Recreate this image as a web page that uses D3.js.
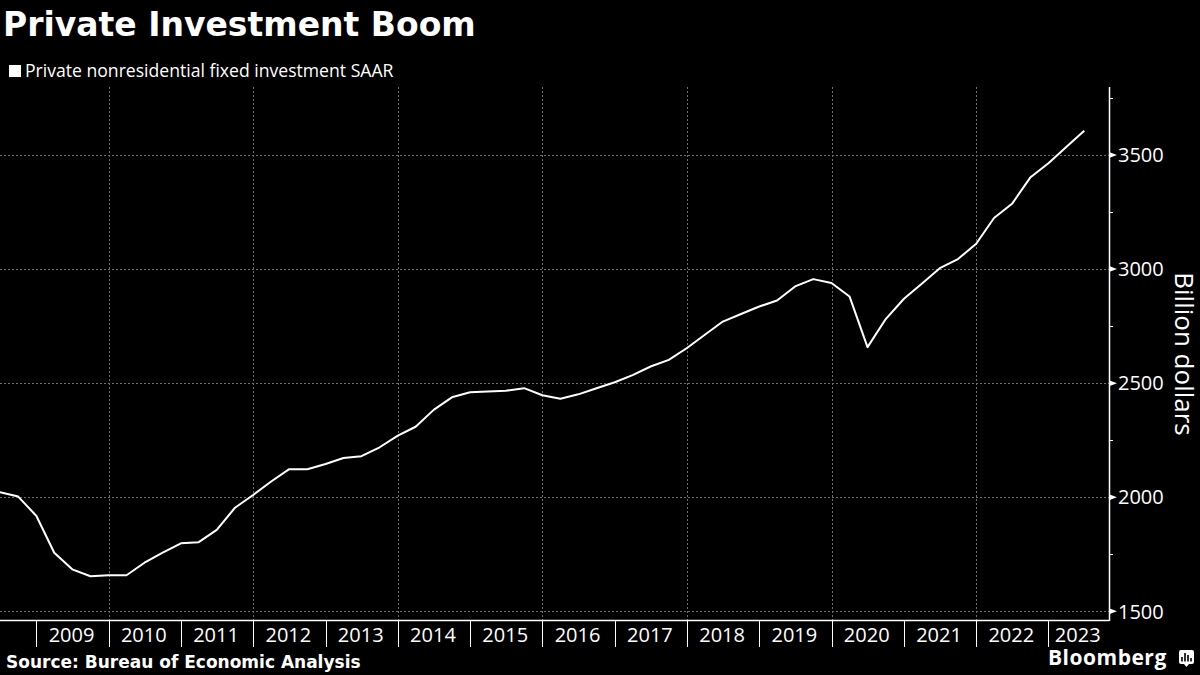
<!DOCTYPE html>
<html>
<head>
<meta charset="utf-8">
<script src="https://cdn.jsdelivr.net/npm/d3@7"></script>
<style>
  html, body { margin: 0; padding: 0; background: #000; }
  svg { display: block; }
</style>
</head>
<body>
<div id="chart"></div>
<script>
// quarterly values, billion dollars (SAAR)
const quarters = [
  "2008Q2", "2008Q3", "2008Q4",
  "2009Q1", "2009Q2", "2009Q3", "2009Q4",
  "2010Q1", "2010Q2", "2010Q3", "2010Q4",
  "2011Q1", "2011Q2", "2011Q3", "2011Q4",
  "2012Q1", "2012Q2", "2012Q3", "2012Q4",
  "2013Q1", "2013Q2", "2013Q3", "2013Q4",
  "2014Q1", "2014Q2", "2014Q3", "2014Q4",
  "2015Q1", "2015Q2", "2015Q3", "2015Q4",
  "2016Q1", "2016Q2", "2016Q3", "2016Q4",
  "2017Q1", "2017Q2", "2017Q3", "2017Q4",
  "2018Q1", "2018Q2", "2018Q3", "2018Q4",
  "2019Q1", "2019Q2", "2019Q3", "2019Q4",
  "2020Q1", "2020Q2", "2020Q3", "2020Q4",
  "2021Q1", "2021Q2", "2021Q3", "2021Q4",
  "2022Q1", "2022Q2", "2022Q3", "2022Q4",
  "2023Q1", "2023Q2"
];
const investment = [
  2022, 2003, 1918,
  1757, 1684, 1654, 1658,
  1658, 1713, 1757, 1798,
  1803, 1857, 1954, 2010,
  2069, 2123, 2123, 2146,
  2172, 2180, 2219, 2270,
  2309, 2383, 2438, 2460,
  2463, 2467, 2478, 2447,
  2432, 2451, 2478, 2504,
  2535, 2573, 2602, 2654,
  2712, 2770, 2803, 2836,
  2862, 2924, 2956, 2939,
  2880, 2658, 2781, 2870,
  2936, 3004, 3044, 3111,
  3224, 3286, 3401, 3464,
  3535, 3606
];
const yearLabels = ["2009", "2010", "2011", "2012", "2013", "2014", "2015", "2016",
  "2017", "2018", "2019", "2020", "2021", "2022", "2023"];
const yTicks = [1500, 2000, 2500, 3000, 3500];
const yMinorTicks = [1750, 2250, 2750, 3250, 3750];

const W = 1200, H = 675;
const plotL = 0, plotR = 1109, plotT = 87, plotB = 620;
const sans = "'Open Sans', 'Noto Sans', sans-serif";

// plotted at the end of each quarter
const parseQ = s => new Date(+s.slice(0, 4), +s.slice(5) * 3, 1);
const data = quarters.map((q, i) => ({ date: parseQ(q), value: investment[i] }));

const svg = d3.select("#chart").append("svg")
  .attr("width", W)
  .attr("height", H)
  .style("background", "#000");

const x = d3.scaleTime()
  .domain([new Date(2008, 6, 1), new Date(2023, 10, 3)])
  .range([plotL, plotR]);

const y = d3.scaleLinear()
  .domain([1462, 3798])
  .range([plotB, plotT]);

// title + legend
svg.append("text")
  .attr("x", 3).attr("y", 36)
  .attr("fill", "#fff")
  .style("font-family", "'DejaVu Sans', sans-serif")
  .style("font-weight", "bold")
  .style("font-size", "33px")
  .text("Private Investment Boom");

svg.append("rect")
  .attr("x", 9).attr("y", 65)
  .attr("width", 12).attr("height", 12)
  .attr("fill", "#fff");

svg.append("text")
  .attr("x", 25).attr("y", 77)
  .attr("fill", "#fff")
  .style("font-family", sans)
  .style("font-size", "17.6px")
  .text("Private nonresidential fixed investment SAAR");

// grid
const grid = svg.append("g")
  .attr("stroke", "#6e6e6e")
  .attr("stroke-width", 1)
  .attr("stroke-dasharray", "2,2");

grid.selectAll("line.h")
  .data(yTicks)
  .enter().append("line")
  .attr("class", "h")
  .attr("x1", plotL).attr("x2", plotR)
  .attr("y1", d => Math.round(y(d)) + 0.5)
  .attr("y2", d => Math.round(y(d)) + 0.5);

const gridYears = d3.range(2010, 2023, 2).map(yr => new Date(yr, 0, 1));
grid.selectAll("line.v")
  .data(gridYears)
  .enter().append("line")
  .attr("class", "v")
  .attr("x1", d => Math.round(x(d)) + 0.5)
  .attr("x2", d => Math.round(x(d)) + 0.5)
  .attr("y1", plotT).attr("y2", plotB);

// x axis
const xAxis = svg.append("g");
xAxis.append("line")
  .attr("x1", plotL).attr("x2", plotR)
  .attr("y1", plotB + 0.5).attr("y2", plotB + 0.5)
  .attr("stroke", "#fff").attr("stroke-width", 1.5);

const yearStarts = yearLabels.map(s => new Date(+s, 0, 1));
xAxis.selectAll("line.tick")
  .data(yearStarts)
  .enter().append("line")
  .attr("class", "tick")
  .attr("x1", d => Math.round(x(d)) + 0.5)
  .attr("x2", d => Math.round(x(d)) + 0.5)
  .attr("y1", plotB).attr("y2", plotB + 27)
  .attr("stroke", "#fff").attr("stroke-width", 1);

xAxis.selectAll("text")
  .data(yearLabels)
  .enter().append("text")
  .attr("x", d => {
    const a = x(new Date(+d, 0, 1));
    const b = Math.min(x(new Date(+d + 1, 0, 1)), plotR);
    return (a + b) / 2 - 1;
  })
  .attr("y", 642)
  .attr("text-anchor", "middle")
  .attr("fill", "#fff")
  .style("font-family", sans)
  .style("font-size", "20px")
  .text(d => d);

// y axis on the right
const yAxis = svg.append("g");
yAxis.append("line")
  .attr("x1", plotR + 0.5).attr("x2", plotR + 0.5)
  .attr("y1", plotT).attr("y2", plotB + 1)
  .attr("stroke", "#fff").attr("stroke-width", 1.5);

yAxis.selectAll("line.minor")
  .data(yMinorTicks)
  .enter().append("line")
  .attr("class", "minor")
  .attr("x1", plotR).attr("x2", plotR + 4)
  .attr("y1", d => Math.round(y(d)) + 0.5)
  .attr("y2", d => Math.round(y(d)) + 0.5)
  .attr("stroke", "#fff").attr("stroke-width", 1);

yAxis.selectAll("path.major")
  .data(yTicks)
  .enter().append("path")
  .attr("class", "major")
  .attr("d", d => {
    const yy = y(d);
    return `M${plotR},${yy - 3}L${plotR + 8},${yy}L${plotR},${yy + 3}Z`;
  })
  .attr("fill", "#fff");

yAxis.selectAll("text")
  .data(yTicks)
  .enter().append("text")
  .attr("x", plotR + 9)
  .attr("y", d => y(d))
  .attr("dy", "0.36em")
  .attr("fill", "#fff")
  .style("font-family", sans)
  .style("font-size", "20px")
  .text(d => d);

svg.append("text")
  .attr("transform", "translate(1175,354) rotate(90)")
  .attr("text-anchor", "middle")
  .attr("fill", "#fff")
  .style("font-family", sans)
  .style("font-size", "26px")
  .text("Billion dollars");

// the line
const line = d3.line()
  .x(d => x(d.date))
  .y(d => y(d.value));

svg.append("path")
  .datum(data)
  .attr("d", line)
  .attr("fill", "none")
  .attr("stroke", "#fff")
  .attr("stroke-width", 2)
  .attr("stroke-linejoin", "round");

// footer
svg.append("text")
  .attr("x", 6).attr("y", 668)
  .attr("fill", "#fff")
  .style("font-family", "'DejaVu Sans', sans-serif")
  .style("font-weight", "bold")
  .style("font-size", "17px")
  .text("Source: Bureau of Economic Analysis");

svg.append("text")
  .attr("x", 1048).attr("y", 665)
  .attr("fill", "#fff")
  .style("font-family", sans)
  .style("font-weight", "bold")
  .style("font-size", "21px")
  .style("letter-spacing", "0.5px")
  .text("Bloomberg");

const logo = svg.append("g").attr("transform", "translate(1179,650)");
logo.append("rect")
  .attr("width", 15).attr("height", 14).attr("rx", 2)
  .attr("fill", "#fff");
logo.append("path")
  .attr("d", "M5,14L7.5,17L10,14Z")
  .attr("fill", "#fff");
logo.selectAll("rect.bar")
  .data([[3, 7], [6, 3], [9, 5], [12, 8]])
  .enter().append("rect")
  .attr("class", "bar")
  .attr("x", d => d[0] - 0.8)
  .attr("y", d => d[1])
  .attr("width", 1.6)
  .attr("height", d => 11.5 - d[1])
  .attr("fill", "#000");
</script>
</body>
</html>
